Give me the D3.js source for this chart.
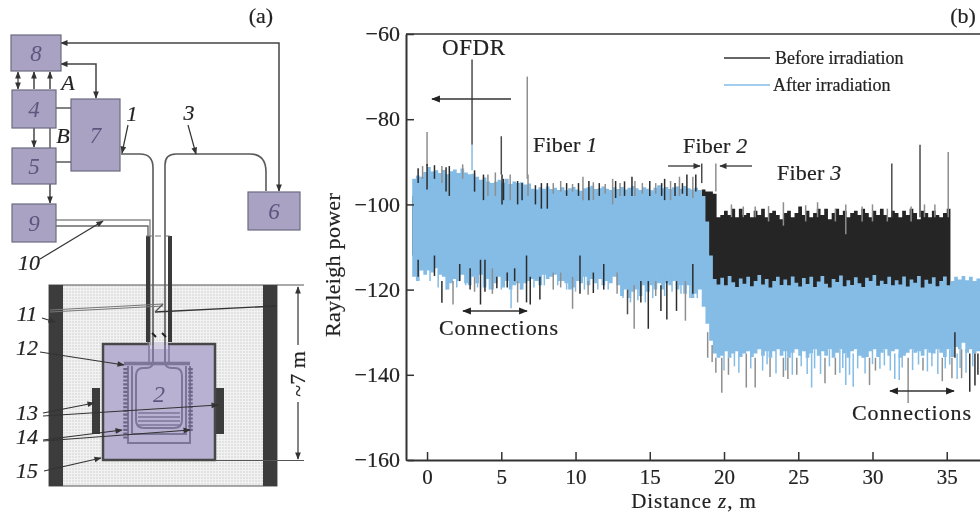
<!DOCTYPE html>
<html>
<head>
<meta charset="utf-8">
<script src="https://cdnjs.cloudflare.com/ajax/libs/d3/7.8.5/d3.min.js"></script>
<style>
html,body{margin:0;padding:0;background:#fff;}
svg{display:block;filter:blur(0.45px);}
text{font-family:"Liberation Serif",serif;fill:#222;stroke:#222;stroke-width:0.2px;}
</style>
</head>
<body>
<div id="chart"></div>
<script>
var zStart = -1, zStep = 0.25;
var afterTop = [
-94.0,-93.2,-93.5,-92.4,-91.2,-92.3,-92.0,-92.6,-91.9,-92.9,
-92.2,-91.8,-92.6,-91.6,-92.5,-92.9,-92.8,-93.5,-94.2,-93.7,
-94.6,-95.0,-94.7,-94.2,-94.9,-94.0,-95.2,-94.6,-95.0,-94.8,
-95.3,-95.1,-96.3,-96.5,-96.0,-96.3,-95.8,-96.4,-96.1,-96.6,
-96.0,-96.7,-96.2,-95.9,-96.5,-96.8,-96.2,-96.0,-95.6,-96.4,
-96.2,-95.8,-96.3,-96.6,-96.0,-96.4,-95.9,-96.5,-96.1,-95.7,
-96.2,-96.6,-96.0,-96.3,-96.7,-96.1,-95.5,-96.2,-95.9,-96.4,
-96.0,-95.8,-96.3,-95.7,-96.2,-96.5,-96.1,-96.6,-98.0,-104.0,
-112.0,-117.5,-118.8,-117.2,-119.0,-116.8,-118.3,-119.4,-117.4,-118.6,
-117.0,-119.2,-118.0,-116.6,-118.8,-117.5,-119.5,-118.0,-117.0,-118.9,
-117.6,-119.0,-116.9,-118.4,-119.3,-117.3,-118.7,-117.0,-119.4,-118.1,
-116.8,-118.6,-119.5,-117.5,-118.2,-116.7,-119.2,-117.8,-118.9,-117.1,
-118.5,-119.4,-117.2,-118.0,-116.6,-119.1,-117.9,-118.7,-117.0,-119.0,
-117.8,-118.8,-116.9,-119.3,-117.6,-118.4,-116.8,-119.5,-117.7,-118.6,
-117.1,-119.2,-118.0,-116.9,-119.0,-118.0,-117.0,-117.6,-116.8,-117.8,
-117.0,-118.0,-117.4,-116.8
];
var afterBottom = [
-117.0,-118.0,-115.5,-116.5,-115.5,-116.0,-115.0,-116.5,-117.0,-120.0,
-118.5,-117.5,-118.0,-116.5,-118.5,-119.0,-117.0,-118.5,-116.5,-119.5,
-117.5,-120.0,-118.5,-117.0,-119.5,-118.0,-120.0,-119.0,-118.5,-120.0,
-118.5,-118.0,-117.5,-118.0,-119.0,-116.5,-117.5,-117.0,-116.5,-118.0,
-118.0,-118.5,-120.0,-119.5,-118.0,-118.5,-117.0,-119.0,-117.5,-118.5,
-117.5,-119.0,-118.0,-118.5,-117.0,-119.0,-121.5,-120.0,-122.0,-120.5,
-120.0,-121.5,-119.0,-120.5,-119.0,-120.0,-118.5,-120.0,-118.5,-119.0,
-118.0,-120.0,-119.0,-121.0,-119.0,-122.0,-121.0,-120.0,-124.0,-128.0,
-132.0,-135.0,-136.0,-135.5,-134.5,-136.0,-135.0,-134.5,-135.8,-135.0,
-134.5,-135.8,-135.0,-134.0,-135.5,-134.5,-136.0,-134.5,-134.0,-135.5,
-134.5,-136.0,-134.8,-134.0,-135.5,-134.5,-136.0,-135.0,-134.0,-135.5,
-134.5,-135.5,-134.0,-136.0,-134.8,-134.0,-135.0,-136.0,-134.5,-134.0,
-135.5,-136.0,-135.8,-134.5,-134.0,-135.8,-134.8,-134.0,-135.5,-134.5,
-134.0,-136.0,-135.5,-134.8,-134.0,-134.8,-134.5,-135.5,-134.0,-134.8,
-135.0,-134.0,-134.8,-135.8,-134.0,-135.8,-133.5,-134.0,-132.5,-134.8,
-134.0,-135.0,-134.5,-134.0
];
var beforeTop = [
-98.0,-98.0,-98.0,-98.0,-98.0,-98.0,-98.0,-98.0,-98.0,-98.0,
-98.0,-98.0,-98.0,-98.0,-98.0,-98.0,-98.0,-98.0,-98.0,-98.0,
-98.0,-98.0,-98.0,-98.0,-98.0,-98.0,-98.0,-98.0,-98.0,-98.0,
-98.0,-98.0,-98.0,-98.0,-98.0,-98.0,-98.0,-98.0,-98.0,-98.0,
-98.0,-98.0,-98.0,-98.0,-98.0,-98.0,-98.0,-98.0,-98.0,-98.0,
-98.0,-98.0,-98.0,-98.0,-98.0,-98.0,-98.0,-98.0,-98.0,-98.0,
-98.0,-98.0,-98.0,-98.0,-98.0,-98.0,-98.0,-98.0,-98.0,-98.0,
-98.0,-98.0,-98.0,-98.0,-98.0,-98.0,-98.0,-98.0,-96.5,-97.0,
-97.0,-97.5,-103.0,-102.5,-101.5,-102.5,-101.0,-103.0,-101.0,-102.5,
-102.0,-103.0,-101.5,-102.5,-101.0,-103.0,-102.0,-101.5,-102.5,-103.5,
-102.0,-101.5,-103.0,-102.0,-100.5,-102.5,-101.5,-103.0,-102.0,-101.0,
-102.5,-101.0,-103.5,-102.0,-101.0,-102.5,-101.5,-103.0,-102.0,-101.5,
-102.5,-101.0,-102.0,-103.0,-101.5,-102.5,-101.0,-102.5,-103.0,-101.5,
-102.0,-103.0,-101.5,-102.5,-101.0,-102.0,-103.5,-101.5,-102.0,-103.0,
-101.5,-102.5,-103.0,-102.0,-101.0,-120.0,-120.0,-120.0,-120.0,-120.0,
-120.0,-120.0,-120.0,-120.0
];
var beforeBottom = [
-112.0,-112.0,-112.0,-112.0,-112.0,-112.0,-112.0,-112.0,-112.0,-112.0,
-112.0,-112.0,-112.0,-112.0,-112.0,-112.0,-112.0,-112.0,-112.0,-112.0,
-112.0,-112.0,-112.0,-112.0,-112.0,-112.0,-112.0,-112.0,-112.0,-112.0,
-112.0,-112.0,-112.0,-112.0,-112.0,-112.0,-112.0,-112.0,-112.0,-112.0,
-112.0,-112.0,-112.0,-112.0,-112.0,-112.0,-112.0,-112.0,-112.0,-112.0,
-112.0,-112.0,-112.0,-112.0,-112.0,-112.0,-112.0,-112.0,-112.0,-112.0,
-112.0,-112.0,-112.0,-112.0,-112.0,-112.0,-112.0,-112.0,-112.0,-112.0,
-112.0,-112.0,-112.0,-112.0,-112.0,-112.0,-112.0,-112.0,-112.0,-112.0,
-121.0,-121.0,-121.0,-121.0,-121.0,-121.0,-121.0,-121.0,-121.0,-121.0,
-121.0,-121.0,-121.0,-121.0,-121.0,-121.0,-121.0,-121.0,-121.0,-121.0,
-121.0,-121.0,-121.0,-121.0,-121.0,-121.0,-121.0,-121.0,-121.0,-121.0,
-121.0,-121.0,-121.0,-121.0,-121.0,-121.0,-121.0,-121.0,-121.0,-121.0,
-121.0,-121.0,-121.0,-121.0,-121.0,-121.0,-121.0,-121.0,-121.0,-121.0,
-121.0,-121.0,-121.0,-121.0,-121.0,-121.0,-121.0,-121.0,-121.0,-121.0,
-121.0,-121.0,-121.0,-121.0,-121.0,-121.0,-121.0,-121.0,-121.0,-121.0,
-121.0,-121.0,-121.0,-121.0
];
// single narrow spikes: z, from, to, tone
var spikes = [
// blue fingers on the lower edge
[0.2,-115,-118,"b"],[0.75,-115,-119.5,"b"],[1.3,-115,-120,"b"],[2,-115,-119.5,"b"],[2.6,-115,-119,"b"],
[3.4,-115,-119.5,"b"],[4.2,-115,-120,"b"],[5,-115,-120,"b"],[6.3,-115,-120,"b"],[7.2,-115,-119.5,"b"],
[7.9,-115,-119,"b"],[8.8,-115,-119,"b"],[9.4,-115,-120,"b"],[10,-115,-120.5,"b"],[10.6,-115,-120,"b"],
[11.5,-115,-120,"b"],[12.2,-115,-120,"b"],[13.2,-115,-122,"b"],[13.7,-115,-123,"b"],[14.2,-115,-122.5,"b"],
[14.7,-115,-123,"b"],[15.2,-115,-122,"b"],[16,-115,-121.5,"b"],[16.5,-115,-120.5,"b"],[17.1,-115,-121,"b"],
[17.7,-115,-122,"b"],[18.2,-115,-122,"b"],
[20,-134,-139,"b"],[20.7,-134,-138,"b"],[21,-134,-139.5,"b"],[21.8,-134,-138.5,"b"],[22.6,-134,-139,"b"],
[22.9,-134,-137.5,"b"],[23.5,-134,-139.7,"b"],[24.15,-134,-139,"b"],[24.6,-134,-140,"b"],[25.2,-134,-138,"b"],
[25.6,-134,-139.8,"b"],[26.1,-134,-138.5,"b"],[26.5,-134,-139.8,"b"],[27.1,-134,-138,"b"],[27.8,-134,-139.6,"b"],
[28,-134,-138.4,"b"],[28.45,-134,-140,"b"],[29,-134,-138.5,"b"],[29.5,-134,-139.7,"b"],[30,-134,-137.5,"b"],
[30.5,-134,-138.6,"b"],[30.8,-134,-137.8,"b"],[31.2,-134,-139,"b"],[32,-134,-138.3,"b"],[32.7,-134,-138.9,"b"],
[33.1,-134,-137.6,"b"],[33.7,-134,-139.2,"b"],[34,-134,-138,"b"],[34.4,-134,-139.8,"b"],[34.9,-134,-138.5,"b"],
[35.2,-134,-137.6,"b"],[35.9,-134,-138.4,"b"],[36.3,-134,-139.5,"b"],[36.75,-134,-138,"b"],
// tall peaks
[0,-91,-83,"g"],[3.03,-86,-66,"d"],[3.03,-92,-86,"b"],[5.0,-93,-84,"d"],[6.75,-94,-70,"g"],
[18.5,-95,-90.4,"d"],[19.45,-97,-90.4,"g"],[31.3,-103,-90.4,"d"],[33.2,-103,-86,"d"],[35.1,-103,-87.7,"g"],
// upper edge, fibers 1 and 2
[-0.6,-95,-91.5,"k"],[-0.3,-94,-91,"g"],[0,-96.5,-90.5,"k"],[0.5,-94,-90.8,"k"],[1.0,-95,-91,"g"],
[1.28,-97,-91.3,"k"],[1.5,-98,-91,"k"],[2.4,-94,-90.6,"g"],[3.2,-97,-92,"k"],[3.8,-99,-93,"k"],
[4.1,-98,-93,"g"],[4.6,-98,-92.5,"g"],[5.05,-100,-93,"k"],[5.15,-99,-94,"k"],[5.6,-99,-93,"g"],
[6.1,-100,-94.5,"k"],[6.4,-99,-95,"k"],[6.8,-98,-93,"g"],[7.3,-100,-95.5,"k"],[7.7,-101,-95,"k"],
[8.1,-101,-95,"k"],[8.5,-97.5,-95,"g"],[9,-97,-94.5,"g"],[9.4,-98,-95,"k"],[9.8,-97,-95.2,"g"],[10.2,-98,-95,"k"],
[10.5,-99,-93.5,"g"],[10.9,-99,-94.5,"k"],[11.2,-99,-94.8,"g"],[11.6,-98,-95,"k"],[12,-97.5,-95.2,"g"],
[12.5,-100,-94,"g"],[12.7,-98.5,-94.5,"k"],[13,-98,-95,"g"],[13.3,-98,-94.6,"k"],[13.8,-98,-93.5,"k"],[14,-98,-94.5,"g"],
[14.5,-97.5,-95,"g"],[15,-98,-94.5,"k"],[15.4,-97.5,-95,"g"],[15.8,-98,-95,"k"],
[16,-99,-94,"k"],[16.4,-99,-94.5,"g"],[16.7,-98,-95,"k"],[17,-98,-93.5,"g"],[17.2,-97.5,-95,"k"],[17.5,-98,-93,"k"],[17.9,-98.5,-93.5,"g"],[18.1,-97,-93,"k"],
// upper edge, fiber 3
[20.5,-103,-100,"g"],[21.3,-103,-100.5,"g"],[22.1,-103,-100.5,"g"],[23,-104,-100.4,"g"],[24,-105,-99.5,"g"],
[25.5,-104,-100.2,"g"],[26.3,-103,-99.5,"g"],[27.5,-104,-101,"g"],[28.2,-107,-100,"g"],[29.3,-104,-100.5,"g"],
[30,-104,-100,"g"],[31,-104,-101,"g"],[32.6,-104,-100.5,"g"],[33.5,-103,-100,"g"],[34.2,-103,-100,"g"],
// lower edge, fibers 1 and 2
[-0.6,-113,-117,"k"],[0.5,-112,-116.8,"k"],[1,-118,-123.1,"k"],[1.75,-118,-123.5,"g"],[2.2,-114,-118,"k"],
[2.9,-115,-120,"k"],[3.2,-117,-120.5,"g"],[3.6,-113,-123.5,"k"],[3.9,-113,-120.5,"k"],[4.4,-115,-121,"g"],
[4.7,-117,-119.7,"k"],[5.4,-116,-119.5,"k"],[5.66,-116,-124.4,"b"],[5.9,-115,-118,"k"],[6.1,-118,-123,"g"],
[6.7,-112,-123,"k"],[6.95,-117,-123.5,"k"],[7.6,-117,-122.3,"k"],[8.5,-116,-120,"g"],[9,-116,-119.5,"g"],
[9.8,-117,-124.5,"g"],[10.3,-112,-121,"k"],[10.85,-118,-121.2,"g"],[11.2,-116,-120.8,"k"],[11.9,-114,-120,"k"],
[12.8,-116,-121,"g"],[13.5,-120,-125.8,"d"],[13.95,-119,-129.2,"g"],[14.4,-118,-123,"k"],[14.9,-118,-129.2,"k"],
[15.4,-118,-121.5,"g"],[15.75,-119,-125,"k"],[16.15,-118,-127,"k"],[16.8,-118,-125,"k"],[17.4,-118,-127.3,"g"],
[17.9,-114,-121,"k"],
// lower edge, fiber 3 and the connections
[18.9,-130,-136,"g"],[19.2,-133,-137,"g"],[19.45,-136,-139.5,"g"],[19.85,-136,-144.2,"g"],[20.3,-136,-140,"g"],
[21.5,-135,-143,"g"],[22.1,-136,-143,"g"],[23.1,-136,-140.5,"g"],[24,-136,-140.5,"g"],[24.3,-136,-141,"g"],
[24.9,-136,-140,"g"],[25.9,-135,-143,"b"],[26.8,-136,-142,"g"],[27.5,-136,-140,"g"],[28.2,-135,-142.4,"b"],
[28.7,-135,-142.8,"b"],[29.8,-136,-142.4,"g"],[30.2,-136,-139,"g"],[31.5,-135,-141,"b"],[31.8,-135,-141.2,"b"],
[32.4,-136,-146.6,"g"],[33.4,-136,-139,"g"],[34.7,-136,-141.5,"g"],[35.35,-136,-140.8,"g"],[35.55,-130,-136,"k"],
[35.7,-135,-141,"b"],[36,-134,-140.8,"g"],[36.55,-135,-144,"k"],[36.9,-135,-142.5,"k"],[37.1,-135,-140,"k"]
];
var yTicks = [-160,-140,-120,-100,-80,-60];
var xTicks = [0,5,10,15,20,25,30,35];
var toneColor = {k:"#2c2c2c", d:"#4c4c4c", g:"#8e8e8e", b:"#84bce6"};

// schematic (a)
var boxes = [
	{label:"8", x:11, y:35, w:50, h:36},
	{label:"4", x:12, y:90, w:44, h:38},
	{label:"5", x:12, y:148, w:44, h:36},
	{label:"9", x:12, y:204, w:44, h:38},
	{label:"7", x:71, y:99, w:49, h:72},
	{label:"6", x:248, y:192, w:52, h:38}
];
var diagramLabels = [
	{t:"A", x:68, y:90}, {t:"B", x:63, y:143}, {t:"1", x:132, y:121}, {t:"3", x:189, y:120},
	{t:"10", x:29, y:270}, {t:"11", x:27, y:321}, {t:"12", x:27, y:355}, {t:"13", x:27, y:420},
	{t:"14", x:27, y:444}, {t:"15", x:27, y:478}
];
// leaders with an arrow head at the far end
var leaders = [
	[128,125,122,153],[188,125,196,154],[40,259,103,221],[42,318,55,322],[40,352,124,365],
	[43,413,94,403],[43,416,218,405],[43,440,122,430],[43,441,190,430],[44,471,101,458]
];

var W = 980, H = 513;
var svg = d3.select("#chart").append("svg").attr("width", W).attr("height", H);

var defs = svg.append("defs");
function head(id, color, size){
	defs.append("marker").attr("id", id)
		.attr("viewBox", "0 0 10 10").attr("refX", 9).attr("refY", 5)
		.attr("markerUnits", "userSpaceOnUse")
		.attr("markerWidth", size).attr("markerHeight", size * 0.8)
		.attr("orient", "auto-start-reverse")
		.append("path").attr("d", "M0,1 L10,5 L0,9 Z").attr("fill", color);
}
head("arr", "#333", 9);
head("arrBig", "#222", 11);
var dots = defs.append("pattern").attr("id", "stipple")
	.attr("width", 3).attr("height", 3).attr("patternUnits", "userSpaceOnUse");
dots.append("rect").attr("width", 3).attr("height", 3).attr("fill", "#f2f2f2");
dots.append("circle").attr("cx", 1).attr("cy", 1).attr("r", 0.8).attr("fill", "#cfcfcf");

function path(g, d, color, width){
	return g.append("path").attr("d", d).attr("fill", "none")
		.attr("stroke", color).attr("stroke-width", width);
}
function rect(g, x, y, w, h, fill, stroke, sw){
	return g.append("rect").attr("x", x).attr("y", y).attr("width", w).attr("height", h)
		.attr("fill", fill).attr("stroke", stroke || "none").attr("stroke-width", sw || 0);
}

// ---- panel (a) ----
var a = svg.append("g");
var boxFill = "#a9a2c2", innerFill = "#b8b1d2", wire = "#5a5a5a", innerLine = "#7c7698";

// vessel
rect(a, 49, 285, 228, 201, "url(#stipple)", "#555", 1);
rect(a, 49, 285, 14, 201, "#3c3c3c");
rect(a, 263, 285, 14, 201, "#3c3c3c");
rect(a, 92, 388, 8, 46, "#3c3c3c");
rect(a, 215, 388, 9, 46, "#3c3c3c");
// inner block
rect(a, 103, 344, 112, 116, innerFill, "#484848", 2.5);
rect(a, 149, 342, 19, 7, "#d4d0e2");
// heater shell
path(a, "M124,363.5 H190", innerLine, 3.5);
path(a, "M128,366 V443 H190 V366", innerLine, 2);
path(a, "M132,366 V434 H186 V366", innerLine, 2);
path(a, "M125.5,368 V440 M190.5,368 V432", "#6c6788", 4.5).attr("stroke-dasharray", "2.2 1.6");
// coil inside the vial
path(a, "M138,413 H180 M138,417 H180 M138,421 H180 M138,425 H180", innerLine, 1.5);
// fibers through the tube, the vial inside the block
path(a, "M121,154 H140 Q153,154 153,168 V345", wire, 1.6);
path(a, "M165,345 V165 Q165,154 176,154 H250 Q266,154 266,172 V191", wire, 1.6);
path(a, "M153,345 V362 Q153,368 146,368 H143 Q136,368 136,376 V420 Q136,428 144,428 H174 Q182,428 182,420 V376 Q182,368 175,368 H172 Q165,368 165,362 V345", innerLine, 2);
path(a, "M149,345 V362 M169,345 V362", innerLine, 1.5);
path(a, "M56,220 H150 V345", "#8a8a8a", 1.4);
path(a, "M56,226 H148 V345", "#6a6a6a", 1.4);
// tube
rect(a, 146, 236, 4, 106, "#3a3a3a");
rect(a, 168, 236, 4, 106, "#3a3a3a");
path(a, "M146,236 H172", "#777", 1).attr("stroke-dasharray", "6 3");
// cross pipes of the vessel
path(a, "M50,310 L163,304", "#777", 1.2);
path(a, "M50,312 L163,306", "#777", 1.2);
path(a, "M276,306 L155,312", "#333", 1.4);
path(a, "M163,304 L155,312", "#555", 1.2);
path(a, "M152,333 L156,337 M162,333 L166,337", "#222", 2);
// wires between boxes
path(a, "M56,108 H71 M56,162 H71 M50,128 V148", wire, 1.5);
path(a, "M61,43 H279 V191", "#444", 1.5).attr("marker-start", "url(#arr)").attr("marker-end", "url(#arr)");
path(a, "M61,64 H96 V98", "#444", 1.5).attr("marker-start", "url(#arr)").attr("marker-end", "url(#arr)");
path(a, "M18,89 V72", "#444", 1.3).attr("marker-start", "url(#arr)").attr("marker-end", "url(#arr)");
path(a, "M34,89 V72", "#444", 1.5).attr("marker-end", "url(#arr)");
path(a, "M50,89 V72", "#444", 1.5).attr("marker-end", "url(#arr)");
path(a, "M34,128 V147", "#444", 1.5).attr("marker-end", "url(#arr)");
path(a, "M50,184 V203", "#444", 1.5).attr("marker-end", "url(#arr)");

a.selectAll("rect.box").data(boxes).enter().append("rect").attr("class", "box")
	.attr("x", function(d){ return d.x; })
	.attr("y", function(d){ return d.y; })
	.attr("width", function(d){ return d.w; })
	.attr("height", function(d){ return d.h; })
	.attr("fill", boxFill).attr("stroke", "#6b6b80").attr("stroke-width", 1.2);
a.selectAll("text.box").data(boxes).enter().append("text").attr("class", "box")
	.text(function(d){ return d.label; })
	.attr("x", function(d){ return d.x + d.w / 2; })
	.attr("y", function(d){ return d.y + d.h / 2 + 8; })
	.attr("text-anchor", "middle").attr("font-size", 23).attr("font-style", "italic")
	.style("fill", "#5c5680").style("stroke", "none");
a.append("text").text("2").attr("x", 159).attr("y", 402).attr("text-anchor", "middle")
	.attr("font-size", 24).attr("font-style", "italic").style("fill", "#5c5680").style("stroke", "none");

a.selectAll("line.lead").data(leaders).enter().append("line").attr("class", "lead")
	.attr("x1", function(d){ return d[0]; }).attr("y1", function(d){ return d[1]; })
	.attr("x2", function(d){ return d[2]; }).attr("y2", function(d){ return d[3]; })
	.attr("stroke", "#333").attr("stroke-width", 1.2).attr("marker-end", "url(#arr)");
a.selectAll("text.lab").data(diagramLabels).enter().append("text").attr("class", "lab")
	.text(function(d){ return d.t; })
	.attr("x", function(d){ return d.x; }).attr("y", function(d){ return d.y; })
	.attr("text-anchor", "middle").attr("font-size", 22).attr("font-style", "italic");
a.append("text").text("(a)").attr("x", 261).attr("y", 23).attr("text-anchor", "middle").attr("font-size", 22);

// 7 m dimension
path(a, "M277,285 H304 M215,460.5 H304", "#555", 1);
path(a, "M298,345 V287", "#333", 1.2).attr("marker-end", "url(#arr)");
path(a, "M298,402 V459", "#333", 1.2).attr("marker-end", "url(#arr)");
a.append("text").text("~7 m").attr("transform", "translate(305,374) rotate(-90)")
	.attr("text-anchor", "middle").attr("font-size", 22);

// ---- panel (b) ----
var x = d3.scaleLinear().domain([-1.35, 37.24]).range([407, 980]);
var y = d3.scaleLinear().domain([-160, -60]).range([460, 34]);
function zAt(i){ return zStart + i * zStep; }

var b = svg.append("g");

function band(top, bottom){
	return d3.area().curve(d3.curveStepAfter)
		.x(function(d, i){ return x(zAt(i)); })
		.y0(function(d, i){ return y(bottom[i]); })
		.y1(function(d){ return y(d); })(top);
}
b.append("path").attr("d", band(beforeTop, beforeBottom)).attr("fill", "#252525");
b.append("path").attr("d", band(afterTop, afterBottom)).attr("fill", toneColor.b);

b.selectAll("line.spike").data(spikes).enter().append("line").attr("class", "spike")
	.attr("x1", function(d){ return x(d[0]); })
	.attr("x2", function(d){ return x(d[0]); })
	.attr("y1", function(d){ return y(d[1]); })
	.attr("y2", function(d){ return y(d[2]); })
	.attr("stroke", function(d){ return toneColor[d[3]]; })
	.attr("stroke-width", 1.5);

// axes and frame
var axL = b.append("g").attr("transform", "translate(406,0)")
	.call(d3.axisLeft(y).tickValues(yTicks).tickSize(-8).tickPadding(6).tickSizeOuter(0));
var axB = b.append("g").attr("transform", "translate(0,460)")
	.call(d3.axisBottom(x).tickValues(xTicks).tickSize(-8).tickPadding(9.5).tickSizeOuter(0));
axL.selectAll("text").attr("font-size", 22).attr("font-family", "Liberation Serif").attr("dy", "0.3em");
axB.selectAll("text").attr("font-size", 21).attr("font-family", "Liberation Serif");
[axL, axB].forEach(function(ax){
	ax.selectAll("line").attr("stroke", "#333").attr("stroke-width", 1.5);
	ax.select(".domain").attr("stroke", "#333").attr("stroke-width", 2);
});
b.append("line").attr("x1", 406).attr("x2", 980).attr("y1", 34).attr("y2", 34)
	.attr("stroke", "#333").attr("stroke-width", 1.6);

b.append("text").text("Rayleigh power").attr("transform", "translate(340,265) rotate(-90)")
	.attr("text-anchor", "middle").attr("font-size", 22).style("letter-spacing", "0.3px");
var xt = b.append("text").attr("x", 694).attr("y", 508).attr("text-anchor", "middle").attr("font-size", 21)
	.style("letter-spacing", "0.9px");
xt.append("tspan").text("Distance ");
xt.append("tspan").text("z").attr("font-style", "italic");
xt.append("tspan").text(", m");

b.append("text").text("(b)").attr("x", 963).attr("y", 23).attr("text-anchor", "middle").attr("font-size", 22);

function note(txt, it, px, py, size, spacing){
	var t = b.append("text").attr("x", px).attr("y", py).attr("font-size", size)
		.style("letter-spacing", (spacing || 0) + "px");
	t.append("tspan").text(txt);
	if(it){ t.append("tspan").text(" " + it).attr("font-style", "italic"); }
}
note("OFDR", null, 442, 55, 23, 0.6);
note("Fiber", "1", 533, 152, 22, 0.2);
note("Fiber", "2", 683, 153, 22, 0.2);
note("Fiber", "3", 777, 180, 22, 0.2);
note("Connections", null, 439, 335, 22, 0.9);
note("Connections", null, 852, 420, 22, 0.9);
note("Before irradiation", null, 775, 64, 18, 0);
note("After irradiation", null, 773, 91, 18, 0);

b.append("line").attr("x1", 724).attr("x2", 770).attr("y1", 58).attr("y2", 58).attr("stroke", "#333").attr("stroke-width", 1.4);
b.append("line").attr("x1", 724).attr("x2", 770).attr("y1", 85).attr("y2", 85).attr("stroke", toneColor.b).attr("stroke-width", 1.6);

path(b, "M511,99 H432", "#333", 1.4).attr("marker-end", "url(#arrBig)");
path(b, "M668,166 H700", "#333", 1.3).attr("marker-end", "url(#arr)");
path(b, "M752,166 H720", "#333", 1.3).attr("marker-end", "url(#arr)");
path(b, "M463,311 H527", "#333", 1.3).attr("marker-start", "url(#arrBig)").attr("marker-end", "url(#arrBig)");
path(b, "M890,391 H954", "#333", 1.3).attr("marker-start", "url(#arrBig)").attr("marker-end", "url(#arrBig)");
</script>
</body>
</html>
